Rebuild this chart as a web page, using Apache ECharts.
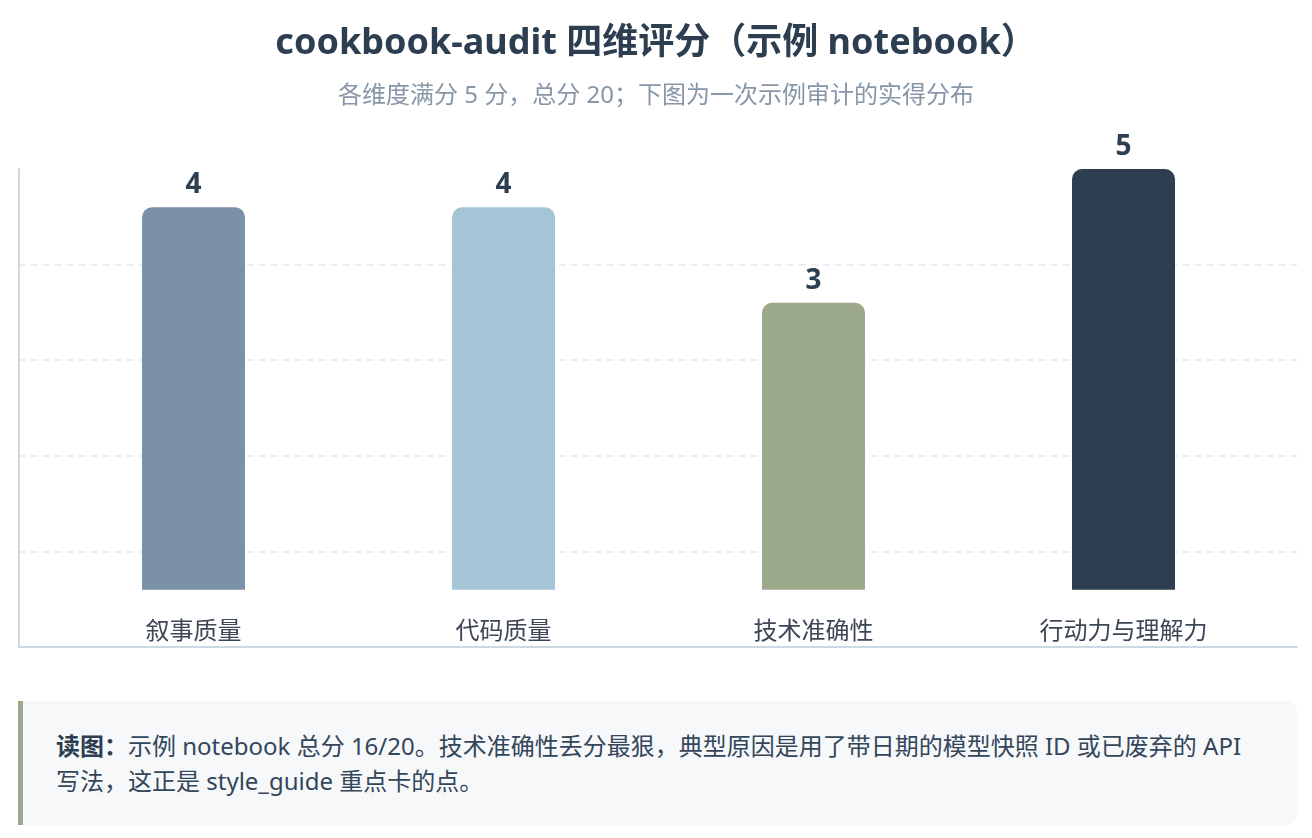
<!DOCTYPE html>
<html>
<head>
<meta charset="utf-8">
<script src="https://cdn.jsdelivr.net/npm/echarts@6/dist/echarts.min.js"></script>
<style>
  html, body { margin: 0; padding: 0; background: #ffffff; width: 1312px; height: 838px; overflow: hidden; }
  body { font-family: "Noto Sans", "Noto Sans CJK SC", sans-serif; position: relative; }
  #chart { position: absolute; left: 0; top: 0; width: 1312px; height: 690px; }
  #note {
    position: absolute; left: 18px; top: 701px; height: 124px;
    box-sizing: border-box; width: 1279px;
    background: #f6f8fa; border-left: 5px solid #9ca98b; border-radius: 0 10px 10px 0;
    padding: 27px 30px 0 33px; color: #34465a; font-size: 24px; line-height: 35px;
    font-family: "Noto Sans", "Noto Sans CJK SC", sans-serif;
  }
  #note b { color: #2c3e50; }
</style>
</head>
<body>
<div id="chart"></div>
<div id="note"><b>读图：</b>示例 notebook 总分 16/20。技术准确性丢分最狠，典型原因是用了带日期的模型快照 ID 或已废弃的 API 写法，这正是 style_guide 重点卡的点。</div>
<script>
const categories = ['叙事质量', '代码质量', '技术准确性', '行动力与理解力'];
const scores = [4, 4, 3, 5];
const barColors = ['#7b91a8', '#a5c4d6', '#9ca98b', '#2e3d50'];
const titleText = 'cookbook-audit 四维评分（示例 notebook）';
const subtitleText = '各维度满分 5 分，总分 20；下图为一次示例审计的实得分布';

const FONT = '"Noto Sans", "Noto Sans CJK SC", sans-serif';
const Y_MIN = -0.6, Y_MAX = 4.4, Y_STEP = 1;

const chart = echarts.init(document.getElementById('chart'), null, { renderer: 'canvas' });
chart.setOption({
  backgroundColor: '#ffffff',
  animation: false,
  title: {
    text: titleText,
    subtext: subtitleText,
    left: 'center',
    top: 21,
    itemGap: 22,
    textStyle: { fontFamily: FONT, fontSize: 36, fontWeight: 'bold', color: '#2c3e50' },
    subtextStyle: { fontFamily: FONT, fontSize: 24, color: '#8797a8' }
  },
  grid: [
    { left: 19, right: 15, top: 169, bottom: 43 },
    { left: 38.5, right: 33.5, top: 169, bottom: 43 }
  ],
  xAxis: [
    {
      gridIndex: 0, type: 'category', data: categories,
      axisLine: { show: true, onZero: false, lineStyle: { color: '#cdd8e1', width: 2 } },
      axisTick: { show: false }, axisLabel: { show: false }, splitLine: { show: false }
    },
    {
      gridIndex: 1, type: 'category', data: categories,
      axisLine: { show: false, onZero: false }, axisTick: { show: false },
      axisLabel: { inside: true, margin: 3, fontFamily: FONT, fontSize: 24, color: '#3d4755' }
    }
  ],
  yAxis: [
    {
      gridIndex: 0, type: 'value', min: Y_MIN, max: Y_MAX, interval: Y_STEP,
      axisLine: { show: true, lineStyle: { color: '#cdd8e1', width: 2 } },
      axisTick: { show: false }, axisLabel: { show: false },
      splitLine: { show: true, showMinLine: false, showMaxLine: false,
                   lineStyle: { color: '#e9eef3', type: [7, 5], width: 2 } }
    },
    {
      gridIndex: 1, type: 'value', min: Y_MIN, max: Y_MAX, interval: Y_STEP,
      show: false, splitLine: { show: false }
    }
  ],
  series: [{
    type: 'bar',
    xAxisIndex: 1, yAxisIndex: 1,
    data: scores.map((v, i) => ({ value: v, itemStyle: { color: barColors[i] } })),
    barWidth: 103,
    clip: true,
    itemStyle: { borderRadius: [10, 10, 0, 0] },
    label: {
      show: true, position: 'top', distance: 8,
      fontFamily: FONT, fontSize: 28, fontWeight: 'bold', color: '#2c3e50'
    }
  }]
});
</script>
</body>
</html>
